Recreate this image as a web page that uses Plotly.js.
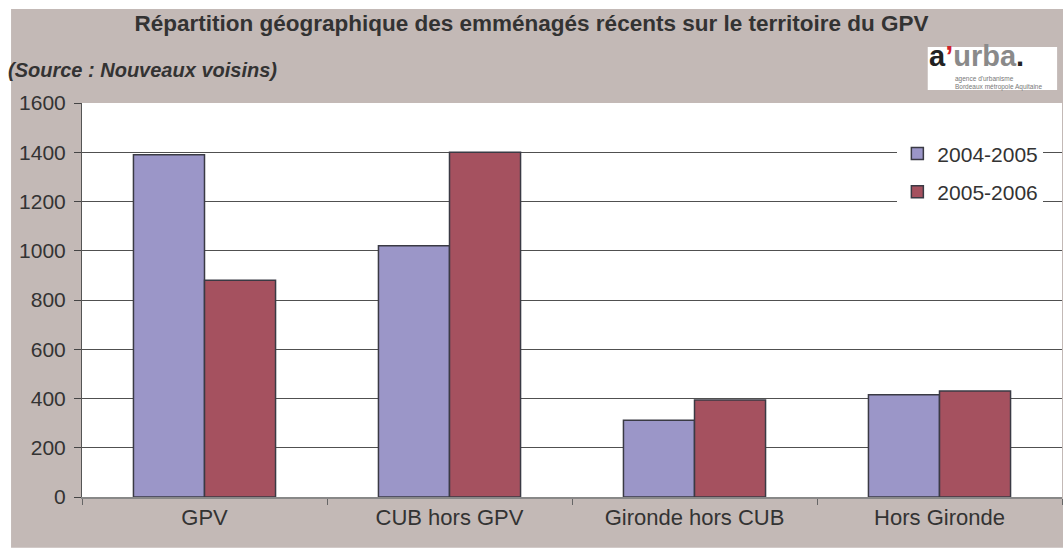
<!DOCTYPE html>
<html>
<head>
<meta charset="utf-8">
<script src="https://cdn.plot.ly/plotly-3.0.1.min.js"></script>
<style>html,body{margin:0;padding:0;background:#ffffff;}</style>
</head>
<body>
<div id="chart" style="width:1063px;height:549px;"></div>
<script>
var categories = ["GPV", "CUB hors GPV", "Gironde hors CUB", "Hors Gironde"];
var series1Name = "2004-2005";
var series1 = [1390, 1020, 312, 415];
var series2Name = "2005-2006";
var series2 = [880, 1400, 394, 430];
var yTicks = [0, 200, 400, 600, 800, 1000, 1200, 1400, 1600];

var font = "Liberation Sans, Arial, sans-serif";
var traces = [
  {type: "bar", x: categories, y: series1, name: series1Name, legendgroup: "a",
   marker: {color: "#9b96c8", line: {color: "#3a3a44", width: 1.5}}},
  {type: "bar", x: categories, y: series2, name: series2Name, legendgroup: "b",
   marker: {color: "#a5515f", line: {color: "#3a3a44", width: 1.5}}}
];
var layout = {
  width: 1063, height: 549,
  paper_bgcolor: "#ffffff", plot_bgcolor: "rgba(0,0,0,0)",
  margin: {l: 82, r: 1, t: 103, b: 52},
  font: {family: font, color: "#333333", size: 21},
  title: {text: "<b>Répartition géographique des emménagés récents sur le territoire du GPV</b>",
          font: {family: font, size: 22.5, color: "#333333"}, x: 0.5, xanchor: "center", y: 0.957, yanchor: "middle"},
  barmode: "group", bargap: 0.42, bargroupgap: 0,
  showlegend: true,
  legend: {x: 0.832, y: 0.923, xanchor: "left", yanchor: "top", bgcolor: "#ffffff",
           font: {family: font, size: 21, color: "#333333"}, tracegroupgap: 8, borderwidth: 0},
  xaxis: {type: "category", tickson: "boundaries", ticks: "outside", ticklen: 6, tickcolor: "#666",
          showline: true, linecolor: "#888888", linewidth: 1.5, showgrid: false,
          tickfont: {family: font, size: 22, color: "#333333"}},
  yaxis: {range: [0, 1600], tickvals: yTicks, ticks: "outside", ticklen: 7, tickcolor: "#444",
          ticklabelstandoff: 4,
          showline: true, linecolor: "#555555", linewidth: 1, showgrid: true, gridcolor: "#505050", gridwidth: 1,
          zeroline: false, tickfont: {family: font, size: 21, color: "#333333"}},
  shapes: [
    {type: "rect", xref: "paper", yref: "paper", x0: -0.0724, x1: 1.01, y0: -0.129, y1: 1.2386,
     fillcolor: "#c3b9b6", line: {width: 0}, layer: "below"},
    {type: "rect", xref: "paper", yref: "paper", x0: 0, x1: 1, y0: 0, y1: 1,
     fillcolor: "#ffffff", line: {width: 0}, layer: "below"},
    {type: "rect", xref: "paper", yref: "paper", x0: 0.863, x1: 0.995, y0: 1.033, y1: 1.142,
     fillcolor: "#ffffff", line: {width: 0}, layer: "above"}
  ],
  annotations: [
    {xref: "paper", yref: "paper", x: -0.0776, y: 1.083, xanchor: "left", yanchor: "middle", showarrow: false,
     text: "<b><i>(Source : Nouveaux voisins)</i></b>", font: {family: font, size: 20, color: "#333333"}},
    {xref: "paper", yref: "paper", x: 0.8635, y: 1.0761, xanchor: "left", yanchor: "bottom", showarrow: false,
     borderpad: 0,
     text: "<b style='color:#222222'>a</b><b style='color:#d0202a'>’</b><b style='color:#8a8a8a'>urba</b><b style='color:#222222'>.</b>",
     font: {family: font, size: 29, color: "#222222"}},
    {xref: "paper", yref: "paper", x: 0.89, y: 1.0736, xanchor: "left", yanchor: "top", showarrow: false,
     borderpad: 0, align: "left",
     text: "agence d'urbanisme<br>Bordeaux métropole Aquitaine",
     font: {family: font, size: 6.5, color: "#777777"}}
  ]
};
Plotly.newPlot("chart", traces, layout, {displayModeBar: false, staticPlot: true});
</script>
</body>
</html>
